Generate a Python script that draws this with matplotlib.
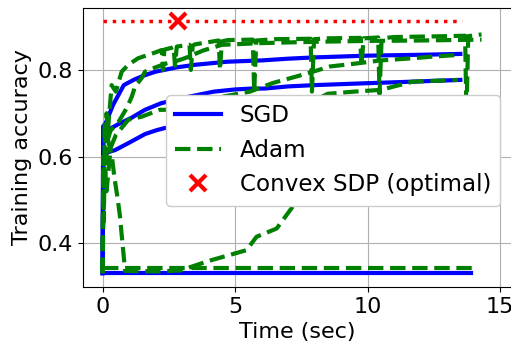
import matplotlib
matplotlib.use("Agg")
import matplotlib.pyplot as plt

# SGD runs (blue, solid)
sgd1_t = [0, 0.02, 0.1, 0.2, 0.4, 0.8, 1.2, 1.6, 2.0, 2.8, 3.5, 4.7, 6.0, 7.0, 8.0, 9.0, 10.0, 11.0, 12.0, 13.5]
sgd1_acc = [0.331, 0.67, 0.675, 0.69, 0.72, 0.765, 0.778, 0.788, 0.796, 0.806, 0.812, 0.819, 0.822, 0.826, 0.829, 0.831, 0.833, 0.834, 0.835, 0.837]
sgd2_t = [0, 0.03, 0.3, 0.6, 1.1, 1.6, 2.2, 3.0, 4.2, 5.0, 5.6, 6.1, 7.0, 8.0, 9.8, 11.7, 13.5]
sgd2_acc = [0.331, 0.66, 0.665, 0.675, 0.69, 0.708, 0.723, 0.735, 0.75, 0.755, 0.757, 0.757, 0.762, 0.765, 0.769, 0.773, 0.777]
sgd3_t = [0, 0.03, 0.2, 0.47, 1.0, 1.6, 2.04, 2.35, 3.5, 5.0, 7.0, 9.0, 11.0, 13.5]
sgd3_acc = [0.331, 0.60, 0.61, 0.615, 0.632, 0.652, 0.661, 0.666, 0.675, 0.685, 0.695, 0.702, 0.708, 0.712]
sgd4_t = [0, 3.5, 7.0, 10.5, 13.9]
sgd4_acc = [0.331, 0.331, 0.331, 0.331, 0.331]

# Adam runs (green, dashed)
adam1_t = [0, 0.02, 0.05, 0.08, 0.1, 0.15, 0.2, 0.34, 0.5, 0.72, 0.97, 1.34, 1.97,
           2.23, 2.28, 2.33, 2.6, 2.68, 2.73, 2.8, 3.28, 3.33, 3.4, 3.48, 4.38, 4.43, 4.5, 4.74,
           5.67, 5.72, 5.8, 6.5, 7.85, 7.9, 7.98, 8.5, 9.72, 9.77, 9.85, 10.4, 10.45, 10.53,
           11.0, 12.0, 13.0, 13.68, 13.73, 13.8, 14.3]
adam1_acc = [0.331, 0.60, 0.45, 0.68, 0.55, 0.70, 0.66, 0.765, 0.75, 0.796, 0.812, 0.827, 0.840,
             0.846, 0.80, 0.847, 0.851, 0.853, 0.81, 0.854, 0.858, 0.80, 0.856, 0.859, 0.868, 0.80, 0.866, 0.869,
             0.870, 0.75, 0.868, 0.871, 0.872, 0.75, 0.871, 0.873, 0.874, 0.81, 0.873, 0.875, 0.745, 0.873,
             0.876, 0.877, 0.878, 0.879, 0.70, 0.878, 0.882]
adam2_t = [0, 0.02, 0.1, 0.3, 0.6, 0.9, 1.1, 1.22, 1.47, 1.6, 2.0, 2.4, 2.8, 3.1, 3.8, 4.5, 6.0, 8.0, 10.0, 12.0, 14.3]
adam2_acc = [0.331, 0.50, 0.62, 0.66, 0.68, 0.711, 0.738, 0.761, 0.781, 0.796, 0.806, 0.815, 0.821, 0.827, 0.845, 0.858, 0.862, 0.865, 0.867, 0.868, 0.870]
adam3_t = [0, 0.03, 0.15, 0.3, 0.5, 0.97, 1.47, 2.16, 2.54, 3.3, 4.5, 5.56, 6.43, 7.32, 7.94, 8.58, 9.58, 10.5, 11.7, 12.5, 13.5]
adam3_acc = [0.331, 0.58, 0.52, 0.62, 0.65, 0.685, 0.692, 0.708, 0.708, 0.723, 0.738, 0.75, 0.77, 0.785, 0.796, 0.808, 0.815, 0.822, 0.827, 0.831, 0.835]
adam4_t = [0, 0.05, 0.2, 0.35, 0.45, 0.55, 0.65, 0.75, 0.85, 2.0, 2.92, 4.05, 5.43, 5.81, 6.57, 7.18, 7.4, 7.7, 8.0, 8.5, 9.5, 10.5, 11.7, 13.4]
adam4_acc = [0.331, 0.55, 0.64, 0.60, 0.55, 0.51, 0.465, 0.40, 0.336, 0.335, 0.337, 0.36, 0.384, 0.415, 0.434, 0.485, 0.55, 0.68, 0.73, 0.745, 0.75, 0.754, 0.773, 0.777]
adam5_t = [0, 3.5, 7.0, 10.5, 14.1]
adam5_acc = [0.343, 0.343, 0.343, 0.343, 0.343]

# Convex SDP (optimal)
sdp_t = [0, 13.55]
sdp_acc = [0.913, 0.913]
sdp_time = 2.83

fig = plt.figure(figsize=(5.11, 3.46), dpi=100)
ax = fig.add_axes([83 / 511, 59 / 346, 429 / 511, 279 / 346])

ax.plot(sgd1_t, sgd1_acc, color="blue", lw=3, label="SGD")
for t, a in [(sgd2_t, sgd2_acc), (sgd3_t, sgd3_acc), (sgd4_t, sgd4_acc)]:
    ax.plot(t, a, color="blue", lw=3)

ax.plot(adam1_t, adam1_acc, color="green", lw=3, ls="--", label="Adam")
for t, a in [(adam2_t, adam2_acc), (adam3_t, adam3_acc), (adam4_t, adam4_acc), (adam5_t, adam5_acc)]:
    ax.plot(t, a, color="green", lw=3, ls="--")

ax.plot(sdp_t, sdp_acc, color="red", lw=2.5, ls=":")
ax.plot([sdp_time], [sdp_acc[0]], "x", color="red", ms=11, mew=3, ls="none",
        label="Convex SDP (optimal)")

ax.set_xlim(-0.74, 15.45)
ax.set_ylim(0.299, 0.943)
ax.set_xticks([0, 5, 10, 15])
ax.set_yticks([0.4, 0.6, 0.8])
ax.tick_params(labelsize=16)
ax.grid(True)
ax.set_axisbelow(True)
ax.set_xlabel("Time (sec)", fontsize=16)
ax.set_ylabel("Training accuracy", fontsize=16)

ax.legend(fontsize=16.6, loc="upper left", bbox_to_anchor=(0.1935, 0.688), borderaxespad=0,
          labelspacing=0.5, framealpha=1)

fig.savefig("out.png", dpi=100)
